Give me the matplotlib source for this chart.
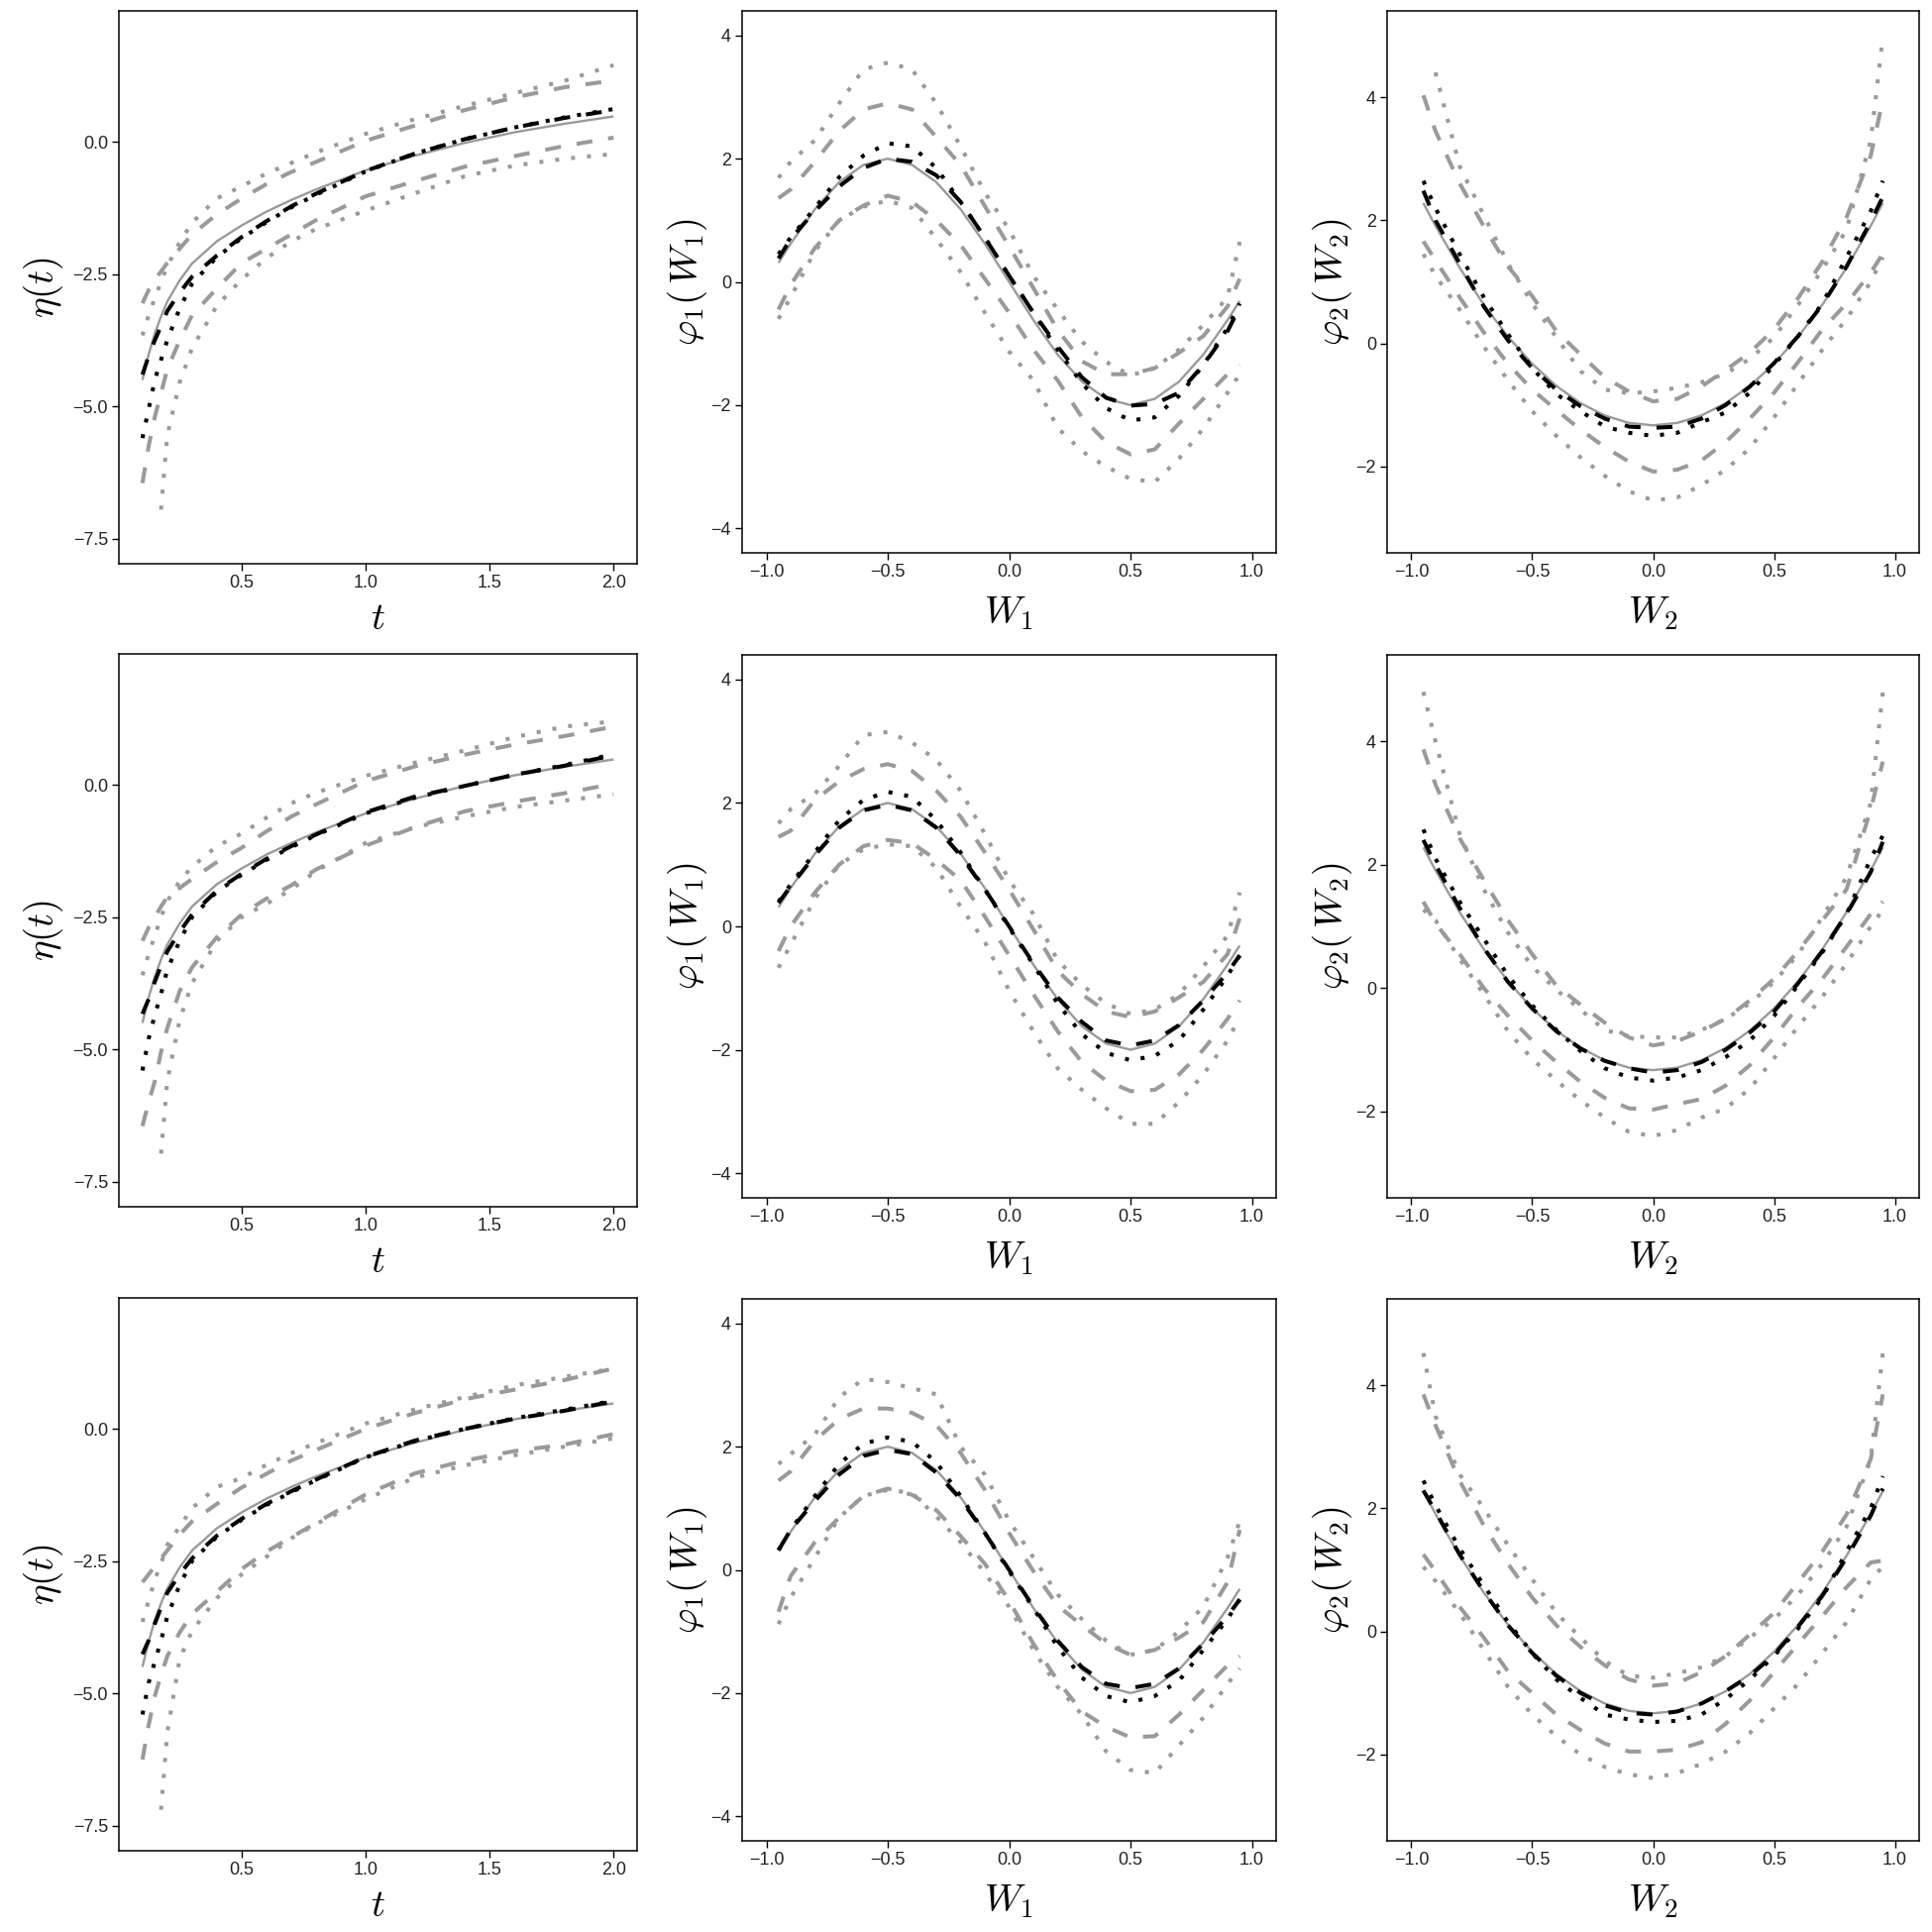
import numpy as np
import matplotlib
matplotlib.use("Agg")
import matplotlib.pyplot as plt

plt.rcParams['mathtext.fontset'] = 'cm'
plt.rcParams['font.family'] = ['Liberation Sans', 'DejaVu Sans']

nan = np.nan

# ---- eta(t) column ----
t = [0.1, 0.125, 0.15, 0.175, 0.2, 0.25, 0.3, 0.4, 0.5, 0.6, 0.7, 0.8, 1.0, 1.2, 1.4, 1.6, 1.8, 2.0]
eta_true = [-4.5, -4.02, -3.62, -3.3, -3.02, -2.62, -2.3, -1.88, -1.58, -1.32, -1.1, -0.9, -0.54, -0.26, -0.02, 0.18, 0.34, 0.48]

eta1_dash = [-4.4, -4.05, -3.75, -3.48, -3.2, -2.85, -2.55, -2.15, -1.8, -1.5, -1.22, -0.98, -0.55, -0.22, 0.05, 0.27, 0.45, 0.6]
eta1_dot = [-5.6, -5.05, -4.5, -4.12, -3.75, -3.15, -2.68, -2.18, -1.82, -1.52, -1.24, -1.0, -0.56, -0.22, 0.05, 0.27, 0.46, 0.62]
eta1_dash_hi = [-3.05, -2.8, -2.6, -2.45, -2.29, -2.02, -1.75, -1.37, -1.07, -0.8, -0.57, -0.38, 0.02, 0.31, 0.6, 0.84, 1.03, 1.16]
eta1_dash_lo = [-6.45, -5.75, -5.2, -4.75, -4.3, -3.75, -3.28, -2.77, -2.29, -2.02, -1.75, -1.48, -1.03, -0.74, -0.47, -0.27, -0.08, 0.08]
eta1_dot_hi = [-3.66, -3.28, -2.95, -2.65, -2.35, -1.9, -1.53, -1.07, -0.84, -0.6, -0.4, -0.2, 0.15, 0.43, 0.68, 0.92, 1.15, 1.45]
eta1_dot_lo = [nan, nan, nan, -6.95, -5.55, -4.55, -3.9, -3.1, -2.6, -2.2, -1.88, -1.65, -1.3, -0.97, -0.65, -0.45, -0.32, -0.23]

eta2_dash = [-4.33, -4.05, -3.72, -3.42, -3.15, -2.78, -2.45, -2.0, -1.68, -1.4, -1.16, -0.94, -0.52, -0.22, -0.02, 0.19, 0.36, 0.56]
eta2_dot = [-5.4, -4.8, -4.35, -3.95, -3.5, -2.95, -2.5, -2.02, -1.7, -1.42, -1.18, -0.95, -0.54, -0.24, -0.02, 0.19, 0.37, 0.58]
eta2_dash_hi = [-2.95, -2.7, -2.5, -2.3, -2.12, -1.95, -1.78, -1.46, -1.19, -0.88, -0.6, -0.37, 0.07, 0.35, 0.57, 0.76, 0.92, 1.1]
eta2_dash_lo = [-6.45, -6.0, -5.6, -5.05, -4.6, -3.9, -3.45, -2.88, -2.45, -2.15, -1.9, -1.6, -1.15, -0.8, -0.5, -0.32, -0.16, 0.02]
eta2_dot_hi = [-3.6, -3.2, -2.85, -2.5, -2.2, -1.82, -1.55, -1.16, -0.92, -0.62, -0.35, -0.15, 0.17, 0.42, 0.65, 0.9, 1.1, 1.2]
eta2_dot_lo = [nan, nan, nan, -6.97, -5.6, -4.45, -3.75, -2.95, -2.5, -2.25, -1.98, -1.63, -1.1, -0.8, -0.6, -0.42, -0.3, -0.18]

eta3_dash = [-4.26, -4.0, -3.68, -3.38, -3.1, -2.75, -2.45, -2.02, -1.7, -1.42, -1.18, -0.96, -0.53, -0.22, 0.0, 0.19, 0.34, 0.52]
eta3_dot = [-5.4, -4.8, -4.4, -4.0, -3.55, -2.95, -2.5, -2.04, -1.72, -1.44, -1.2, -0.97, -0.54, -0.23, 0.0, 0.2, 0.36, 0.53]
eta3_dash_hi = [-2.9, -2.75, -2.6, -2.45, -2.3, -2.0, -1.75, -1.42, -1.11, -0.85, -0.6, -0.4, 0.0, 0.3, 0.56, 0.74, 0.92, 1.14]
eta3_dash_lo = [-6.25, -5.6, -5.05, -4.65, -4.3, -3.85, -3.5, -3.08, -2.65, -2.32, -2.05, -1.78, -1.24, -0.84, -0.6, -0.42, -0.3, -0.1]
eta3_dot_hi = [-3.65, -3.25, -2.85, -2.55, -2.2, -1.85, -1.5, -1.1, -0.93, -0.68, -0.46, -0.27, 0.1, 0.37, 0.6, 0.82, 0.98, 1.14]
eta3_dot_lo = [nan, nan, nan, -7.2, -5.75, -4.35, -3.82, -3.2, -2.75, -2.42, -2.07, -1.8, -1.33, -0.92, -0.69, -0.5, -0.34, -0.18]

# ---- phi1(W1) column ----
w = [-0.95, -0.9, -0.8, -0.7, -0.6, -0.5, -0.4, -0.3, -0.2, -0.1, 0.0, 0.1, 0.2, 0.3, 0.4, 0.5, 0.6, 0.7, 0.8, 0.9, 0.95]
phi1_true = [0.31, 0.62, 1.18, 1.62, 1.9, 2.0, 1.9, 1.62, 1.18, 0.62, 0.0, -0.62, -1.18, -1.62, -1.9, -2.0, -1.9, -1.62, -1.18, -0.62, -0.31]

phi1_1_dash = [0.38, 0.7, 1.15, 1.55, 1.85, 2.0, 1.95, 1.73, 1.3, 0.72, 0.1, -0.5, -1.05, -1.55, -1.88, -2.01, -1.98, -1.8, -1.35, -0.8, -0.41]
phi1_1_dot = [0.45, 0.72, 1.2, 1.7, 2.05, 2.25, 2.2, 1.85, 1.3, 0.72, 0.1, -0.5, -1.1, -1.65, -2.05, -2.25, -2.2, -1.85, -1.35, -0.75, -0.35]
phi1_1_dash_hi = [1.36, 1.5, 1.95, 2.45, 2.8, 2.9, 2.8, 2.35, 1.9, 1.23, 0.58, -0.1, -0.78, -1.29, -1.5, -1.5, -1.4, -1.15, -0.88, -0.4, 0.05]
phi1_1_dash_lo = [-0.45, -0.05, 0.55, 1.0, 1.24, 1.4, 1.3, 1.0, 0.6, 0.05, -0.5, -1.1, -1.6, -2.2, -2.6, -2.8, -2.72, -2.3, -1.9, -1.5, -1.35]
phi1_1_dot_hi = [1.69, 1.95, 2.3, 2.9, 3.45, 3.56, 3.45, 2.9, 2.2, 1.45, 0.85, 0.1, -0.45, -0.97, -1.3, -1.52, -1.4, -1.1, -0.7, -0.25, 0.65]
phi1_1_dot_lo = [-0.6, -0.25, 0.5, 1.0, 1.22, 1.32, 1.2, 0.7, 0.16, -0.5, -1.13, -1.6, -2.37, -2.75, -3.0, -3.2, -3.25, -2.87, -2.38, -1.8, -1.5]

phi1_2_dash = [0.38, 0.65, 1.15, 1.6, 1.88, 1.97, 1.88, 1.6, 1.15, 0.6, 0.0, -0.6, -1.15, -1.55, -1.85, -1.93, -1.85, -1.6, -1.2, -0.75, -0.47]
phi1_2_dot = [0.4, 0.68, 1.2, 1.72, 2.05, 2.18, 2.1, 1.72, 1.2, 0.6, -0.02, -0.62, -1.25, -1.75, -2.05, -2.17, -2.1, -1.85, -1.35, -0.8, -0.47]
phi1_2_dash_hi = [1.45, 1.55, 2.05, 2.35, 2.55, 2.63, 2.52, 2.2, 1.78, 1.2, 0.6, -0.05, -0.72, -1.1, -1.38, -1.47, -1.38, -1.15, -0.9, -0.45, 0.13]
phi1_2_dash_lo = [-0.4, 0.0, 0.55, 1.0, 1.3, 1.4, 1.35, 1.08, 0.75, 0.16, -0.47, -1.1, -1.7, -2.2, -2.5, -2.67, -2.65, -2.4, -2.0, -1.5, -1.2]
phi1_2_dot_hi = [1.67, 1.9, 2.15, 2.6, 3.1, 3.15, 2.98, 2.7, 2.2, 1.5, 0.75, 0.2, -0.55, -0.95, -1.25, -1.42, -1.35, -1.1, -0.65, -0.15, 0.55]
phi1_2_dot_lo = [-0.67, -0.3, 0.45, 1.0, 1.25, 1.33, 1.3, 0.95, 0.32, -0.25, -1.04, -1.7, -2.3, -2.65, -2.95, -3.2, -3.2, -2.85, -2.4, -1.85, -1.47]

phi1_3_dash = [0.32, 0.65, 1.12, 1.55, 1.85, 1.95, 1.88, 1.58, 1.15, 0.6, 0.0, -0.6, -1.15, -1.58, -1.85, -1.92, -1.85, -1.6, -1.2, -0.75, -0.48]
phi1_3_dot = [0.32, 0.65, 1.2, 1.72, 2.05, 2.15, 2.08, 1.75, 1.2, 0.6, -0.02, -0.62, -1.25, -1.75, -2.05, -2.15, -2.05, -1.8, -1.3, -0.8, -0.48]
phi1_3_dash_hi = [1.45, 1.6, 2.1, 2.45, 2.62, 2.62, 2.55, 2.35, 1.9, 1.3, 0.6, -0.02, -0.58, -0.9, -1.2, -1.38, -1.3, -1.1, -0.85, -0.2, 0.65]
phi1_3_dash_lo = [-0.68, -0.1, 0.45, 0.85, 1.2, 1.32, 1.22, 0.97, 0.55, 0.1, -0.5, -1.2, -1.8, -2.3, -2.55, -2.72, -2.7, -2.35, -1.95, -1.55, -1.4]
phi1_3_dot_hi = [1.72, 1.88, 2.2, 2.8, 3.1, 3.05, 2.95, 2.85, 2.0, 1.55, 0.8, 0.2, -0.4, -0.8, -1.15, -1.38, -1.3, -1.0, -0.6, 0.2, 0.79]
phi1_3_dot_lo = [-0.88, -0.45, 0.2, 0.85, 1.2, 1.3, 1.25, 0.87, 0.45, -0.05, -0.6, -1.3, -1.9, -2.35, -2.95, -3.25, -3.3, -2.85, -2.4, -1.85, -1.6]

# ---- phi2(W2) column ----
phi2_true = [2.28, 1.91, 1.23, 0.63, 0.11, -0.33, -0.69, -0.97, -1.17, -1.29, -1.33, -1.29, -1.17, -0.97, -0.69, -0.33, 0.11, 0.63, 1.23, 1.91, 2.28]

phi2_1_dash = [2.48, 2.0, 1.3, 0.6, 0.05, -0.4, -0.75, -1.02, -1.22, -1.35, -1.37, -1.35, -1.22, -1.0, -0.7, -0.32, 0.12, 0.63, 1.25, 1.98, 2.38]
phi2_1_dot = [2.64, 2.2, 1.45, 0.75, 0.15, -0.4, -0.82, -1.1, -1.35, -1.45, -1.5, -1.45, -1.28, -1.12, -0.8, -0.35, 0.12, 0.65, 1.4, 2.15, 2.64]
phi2_1_dash_hi = [4.03, 3.45, 2.6, 1.9, 1.25, 0.77, 0.2, -0.18, -0.55, -0.78, -0.94, -0.9, -0.7, -0.43, -0.15, 0.23, 0.74, 1.33, 2.05, 3.05, 3.96]
phi2_1_dash_lo = [1.66, 1.35, 0.75, 0.18, -0.33, -0.75, -1.08, -1.4, -1.68, -1.92, -2.08, -2.05, -1.9, -1.6, -1.22, -0.8, -0.3, 0.23, 0.65, 1.15, 1.46]
phi2_1_dot_hi = [nan, 4.4, 2.88, 2.08, 1.3, 0.65, 0.1, -0.45, -0.75, -0.81, -0.78, -0.72, -0.63, -0.49, -0.25, 0.1, 0.63, 1.2, 1.85, 3.3, 4.98]
phi2_1_dot_lo = [1.45, 1.1, 0.55, -0.05, -0.6, -1.1, -1.5, -1.85, -2.15, -2.4, -2.55, -2.5, -2.3, -2.05, -1.7, -1.2, -0.65, -0.1, 0.4, 1.0, 1.4]

phi2_2_dash = [2.4, 2.0, 1.3, 0.65, 0.1, -0.33, -0.7, -0.98, -1.18, -1.3, -1.37, -1.33, -1.2, -1.0, -0.72, -0.38, 0.08, 0.6, 1.2, 1.88, 2.37]
phi2_2_dot = [2.57, 2.1, 1.4, 0.8, 0.2, -0.28, -0.68, -1.02, -1.3, -1.45, -1.5, -1.45, -1.33, -1.12, -0.85, -0.45, 0.05, 0.58, 1.2, 2.1, 2.47]
phi2_2_dash_hi = [3.87, 3.3, 2.43, 1.75, 1.1, 0.55, 0.04, -0.27, -0.56, -0.8, -0.93, -0.86, -0.7, -0.5, -0.2, 0.15, 0.6, 1.1, 1.6, 2.9, 3.67]
phi2_2_dash_lo = [1.4, 1.05, 0.55, 0.0, -0.45, -0.85, -1.2, -1.52, -1.78, -1.95, -1.97, -1.88, -1.8, -1.58, -1.25, -0.8, -0.3, 0.15, 0.67, 1.2, 1.4]
phi2_2_dot_hi = [4.8, 4.0, 2.5, 1.6, 0.9, 0.35, -0.03, -0.35, -0.68, -0.78, -0.8, -0.8, -0.68, -0.5, -0.25, 0.1, 0.55, 1.15, 1.8, 3.0, 4.8]
phi2_2_dot_lo = [1.27, 1.1, 0.47, -0.1, -0.7, -1.15, -1.5, -1.82, -2.1, -2.33, -2.4, -2.3, -2.1, -1.95, -1.63, -1.14, -0.62, -0.14, 0.4, 1.0, 1.27]

phi2_3_dash = [2.29, 1.95, 1.25, 0.65, 0.1, -0.35, -0.72, -1.0, -1.2, -1.32, -1.35, -1.3, -1.17, -0.97, -0.72, -0.38, 0.08, 0.58, 1.2, 1.88, 2.32]
phi2_3_dot = [2.45, 2.05, 1.35, 0.75, 0.15, -0.35, -0.78, -1.08, -1.35, -1.43, -1.47, -1.45, -1.35, -1.1, -0.78, -0.4, 0.05, 0.55, 1.3, 2.0, 2.52]
phi2_3_dash_hi = [3.85, 3.35, 2.45, 1.72, 1.1, 0.55, 0.1, -0.25, -0.55, -0.78, -0.88, -0.84, -0.66, -0.4, -0.05, 0.3, 0.8, 1.3, 1.9, 2.8, 3.85]
phi2_3_dash_lo = [1.25, 0.98, 0.4, -0.1, -0.65, -1.0, -1.35, -1.6, -1.82, -1.95, -1.95, -1.92, -1.8, -1.5, -1.12, -0.66, -0.2, 0.25, 0.72, 1.12, 1.15]
phi2_3_dot_hi = [4.52, 3.5, 2.55, 2.0, 1.4, 0.85, 0.3, -0.1, -0.48, -0.72, -0.75, -0.68, -0.58, -0.4, -0.1, 0.2, 0.6, 1.1, 1.7, 2.8, 4.52]
phi2_3_dot_lo = [1.05, 0.82, 0.3, -0.3, -0.9, -1.35, -1.7, -2.0, -2.2, -2.32, -2.38, -2.3, -2.15, -1.95, -1.65, -1.25, -0.85, -0.35, 0.15, 0.85, 1.05]

GRAY = '#9a9a9a'
LW = 2.9


def draw(ax, x, truth, dash, dot, dash_hi, dash_lo, dot_hi, dot_lo):
    for y in (dot_hi, dot_lo):
        ax.plot(x, y, color=GRAY, lw=LW, ls=(0, (1, 3)), dash_capstyle='butt')
    for y in (dash_hi, dash_lo):
        ax.plot(x, y, color=GRAY, lw=LW, ls=(0, (4, 4)), dash_capstyle='butt')
    ax.plot(x, truth, color=GRAY, lw=1.7, solid_capstyle='butt')
    ax.plot(x, dot, color='black', lw=LW, ls=(0, (1, 3)), dash_capstyle='butt')
    ax.plot(x, dash, color='black', lw=LW, ls=(0, (4, 4)), dash_capstyle='butt')


def style(ax):
    for s in ax.spines.values():
        s.set_linewidth(1.1)
        s.set_color('black')
    ax.tick_params(direction='out', length=5, width=1.0, labelsize=13,
                   labelcolor='#222222', pad=3)


W = 1950.0
fig = plt.figure(figsize=(19.5, 19.5), dpi=100)

cols_x = [(120, 643), (749, 1288), (1400, 1937)]
rows_y_eta = [(11, 569), (660, 1218), (1310, 1868)]
rows_y_phi = [(11, 558), (661, 1209), (1311, 1858)]


def make_ax(xr, yr):
    return fig.add_axes([xr[0] / W, 1 - yr[1] / W, (xr[1] - xr[0]) / W, (yr[1] - yr[0]) / W])


eta_rows = [
    (eta1_dash, eta1_dot, eta1_dash_hi, eta1_dash_lo, eta1_dot_hi, eta1_dot_lo),
    (eta2_dash, eta2_dot, eta2_dash_hi, eta2_dash_lo, eta2_dot_hi, eta2_dot_lo),
    (eta3_dash, eta3_dot, eta3_dash_hi, eta3_dash_lo, eta3_dot_hi, eta3_dot_lo),
]
phi1_rows = [
    (phi1_1_dash, phi1_1_dot, phi1_1_dash_hi, phi1_1_dash_lo, phi1_1_dot_hi, phi1_1_dot_lo),
    (phi1_2_dash, phi1_2_dot, phi1_2_dash_hi, phi1_2_dash_lo, phi1_2_dot_hi, phi1_2_dot_lo),
    (phi1_3_dash, phi1_3_dot, phi1_3_dash_hi, phi1_3_dash_lo, phi1_3_dot_hi, phi1_3_dot_lo),
]
phi2_rows = [
    (phi2_1_dash, phi2_1_dot, phi2_1_dash_hi, phi2_1_dash_lo, phi2_1_dot_hi, phi2_1_dot_lo),
    (phi2_2_dash, phi2_2_dot, phi2_2_dash_hi, phi2_2_dash_lo, phi2_2_dot_hi, phi2_2_dot_lo),
    (phi2_3_dash, phi2_3_dot, phi2_3_dash_hi, phi2_3_dash_lo, phi2_3_dot_hi, phi2_3_dot_lo),
]

for r in range(3):
    # eta(t)
    ax = make_ax(cols_x[0], rows_y_eta[r])
    draw(ax, t, eta_true, *eta_rows[r])
    ax.set_xlim(0.005, 2.095)
    ax.set_ylim(-7.975, 2.475)
    ax.set_xticks([0.5, 1.0, 1.5, 2.0])
    ax.set_yticks([-7.5, -5.0, -2.5, 0.0])
    ax.set_xlabel(r'$t$', fontsize=28, labelpad=7)
    ax.set_ylabel(r'$\eta(t)$', fontsize=28, labelpad=5)
    style(ax)

    # phi1(W1)
    ax = make_ax(cols_x[1], rows_y_phi[r])
    draw(ax, w, phi1_true, *phi1_rows[r])
    ax.set_xlim(-1.1, 1.1)
    ax.set_ylim(-4.4, 4.4)
    ax.set_xticks([-1.0, -0.5, 0.0, 0.5, 1.0])
    ax.set_yticks([-4, -2, 0, 2, 4])
    ax.set_xlabel(r'$W_1$', fontsize=28, labelpad=10)
    ax.set_ylabel(r'$\varphi_1(\,W_1)$', fontsize=28, labelpad=1)
    style(ax)

    # phi2(W2)
    ax = make_ax(cols_x[2], rows_y_phi[r])
    draw(ax, w, phi2_true, *phi2_rows[r])
    ax.set_xlim(-1.1, 1.1)
    ax.set_ylim(-3.4, 5.4)
    ax.set_xticks([-1.0, -0.5, 0.0, 0.5, 1.0])
    ax.set_yticks([-2, 0, 2, 4])
    ax.set_xlabel(r'$W_2$', fontsize=28, labelpad=10)
    ax.set_ylabel(r'$\varphi_2(\,W_2)$', fontsize=28, labelpad=1)
    style(ax)

fig.savefig('out.png', dpi=100, facecolor='white')
